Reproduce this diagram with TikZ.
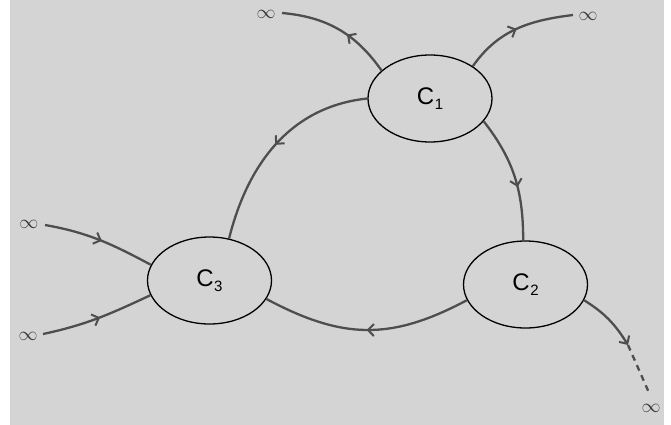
\RequirePackage{fix-cm}
\documentclass[tikz,border=0pt]{standalone}
\usepackage{fontspec}
\setsansfont{Liberation Sans}
\usetikzlibrary{shapes.geometric,arrows.meta,decorations.markings}

\definecolor{paper}{HTML}{D4D4D4}
\definecolor{flow}{HTML}{4E4E4E}

\tikzset{
  comp/.style={ellipse, draw=black, line width=1.3pt, inner sep=0pt,
    minimum width=124pt, minimum height=87pt,
    font=\sffamily\fontsize{24}{26}\selectfont},
  orbit/.style={draw=flow, line width=2.3pt},
  barb/.style={-{Straight Barb[length=6pt,width=12pt,line width=2pt]}},
  midarrow/.style={postaction={decorate}, decoration={markings,
    mark=at position #1 with {\arrow{Straight Barb[length=6pt,width=12pt,line width=2pt]}}}},
  inf/.style={text=flow!70!black, inner sep=0pt, font=\fontsize{19}{21}\selectfont}
}
\newcommand{\comptext}[1]{C\kern0.5pt\raisebox{-5pt}{\fontsize{15}{15}\selectfont #1}}

\begin{document}
\begin{tikzpicture}[x=1pt,y=1pt]
  % page and background
  \useasboundingbox (0,0) rectangle (671,-425);
  \fill[white] (0,0) rectangle (671,-425);
  \fill[paper] (10,0) rectangle (664,-425);

  % components
  \node[comp] (c1) at (430,-98.5) {\comptext{1}};
  \node[comp] (c2) at (525.5,-284.5) {\comptext{2}};
  \node[comp] (c3) at (209.5,-280.5) {\comptext{3}};

  % ends at infinity
  \coordinate (e1) at (282,-13);
  \coordinate (e2) at (573,-15);
  \coordinate (e3) at (45,-225);
  \coordinate (e4) at (43,-334);
  \coordinate (e5) at (628,-345);
  \coordinate (e6) at (650,-395);
  \node[inf] (i1) at (266,-14) {$\infty$};
  \node[inf] (i2) at (588,-16) {$\infty$};
  \node[inf] (i3) at (29,-224) {$\infty$};
  \node[inf] (i4) at (28,-336) {$\infty$};
  \node[inf] (i5) at (651,-408) {$\infty$};

  % flows between components
  \draw[orbit, midarrow=0.42] (c1.150) to[out=125,in=-5] (e1);
  \draw[orbit, midarrow=0.5] (c1.37) to[out=55,in=187] (e2);
  \draw[orbit, midarrow=0.5] (c1.180) to[out=186,in=76] (c3.65);
  \draw[orbit, midarrow=0.58] (c1.-23) to[out=-52,in=90] (c2.93);
  \draw[orbit, midarrow=0.5] (c2.195) to[out=208,in=-28,looseness=1.1] (c3.-18);
  \draw[orbit, barb] (c2.-15) to[out=-32,in=122] (e5);
  \draw[orbit, dashed, dash pattern=on 6pt off 5pt] (e5) -- (e6);
  \draw[orbit, midarrow=0.52] (e3) to[out=-10,in=152] (c3.165);
  \draw[orbit, midarrow=0.52] (e4) to[out=12,in=205] (c3.194);
\end{tikzpicture}
\end{document}
